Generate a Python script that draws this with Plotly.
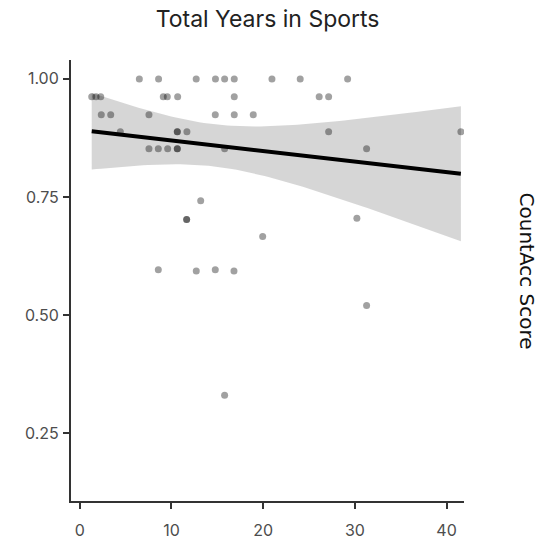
import numpy as np
import plotly.graph_objects as go

# Data
years = [6.5, 8.6, 12.7, 14.8, 15.8, 16.85, 20.96, 24.04, 29.21,
         1.31, 1.78, 2.29, 9.11, 9.55, 10.68, 16.85, 26.11, 27.14,
         2.35, 3.38, 7.55, 14.78, 16.85, 18.92,
         4.43, 10.64, 10.64, 11.69, 27.14, 41.56,
         7.55, 8.57, 9.59, 10.64, 10.64, 15.80, 31.28,
         13.19, 11.66, 11.66, 19.95, 30.22,
         8.57, 14.78, 12.71, 16.82,
         15.80, 31.28]
score = [1.0, 1.0, 1.0, 1.0, 1.0, 1.0, 1.0, 1.0, 1.0,
         0.962, 0.962, 0.962, 0.962, 0.962, 0.962, 0.962, 0.962, 0.962,
         0.924, 0.924, 0.924, 0.924, 0.924, 0.924,
         0.888, 0.888, 0.888, 0.888, 0.888, 0.888,
         0.852, 0.852, 0.852, 0.852, 0.852, 0.852, 0.852,
         0.742, 0.702, 0.702, 0.666, 0.705,
         0.596, 0.596, 0.593, 0.593,
         0.330, 0.520]

x_ticks = [0, 10, 20, 30, 40]
y_ticks = [0.25, 0.50, 0.75, 1.00]
y_tick_labels = ["0.25", "0.50", "0.75", "1.00"]

# Linear fit with 95% confidence band
x = np.array(years)
y = np.array(score)
n = len(x)
b, a = np.polyfit(x, y, 1)
resid = y - (a + b * x)
s = np.sqrt(np.sum(resid ** 2) / (n - 2))
xbar = x.mean()
sxx = np.sum((x - xbar) ** 2)
t = 2.013
xs = np.linspace(x.min(), x.max(), 80)
ys = a + b * xs
se = s * np.sqrt(1.0 / n + (xs - xbar) ** 2 / sxx)
upper = ys + t * se
lower = ys - t * se

fig = go.Figure()
fig.add_trace(go.Scatter(
    x=np.concatenate([xs, xs[::-1]]), y=np.concatenate([upper, lower[::-1]]),
    fill="toself", fillcolor="rgba(153,153,153,0.4)", line=dict(width=0),
    mode="lines", hoverinfo="skip", showlegend=False))
fig.add_trace(go.Scatter(
    x=years, y=score, mode="markers",
    marker=dict(size=7, color="rgba(0,0,0,0.37)", line=dict(width=0)),
    showlegend=False))
fig.add_trace(go.Scatter(
    x=xs, y=ys, mode="lines", line=dict(color="black", width=4),
    showlegend=False))

axis_common = dict(showgrid=False, zeroline=False, showline=True,
                   linecolor="#333333", linewidth=2, ticks="outside",
                   ticklen=6, tickwidth=2, tickcolor="#333333",
                   automargin=False,
                   tickfont=dict(family="Inter", size=16, color="#4d4d4d"))

fig.update_xaxes(range=[-0.95, 41.9], tickvals=x_ticks, ticklabelstandoff=8,
                 **axis_common)
fig.update_yaxes(range=[0.106, 1.040], tickvals=y_ticks, ticktext=y_tick_labels,
                 ticklabelstandoff=1, **axis_common)

fig.update_layout(
    width=540, height=540,
    margin=dict(l=71, r=76, t=60, b=39, autoexpand=False),
    plot_bgcolor="white", paper_bgcolor="white",
    title=dict(text="Total Years in Sports", x=0.4955, xanchor="center",
               y=0.965, yanchor="middle",
               font=dict(family="Inter", size=23, color="#222222")),
    annotations=[dict(text="CountAcc Score", textangle=90, xref="paper",
                      yref="paper", x=1.0, xshift=63, y=0.5, yshift=10,
                      xanchor="center", yanchor="middle", showarrow=False,
                      font=dict(family="DejaVu Sans", size=20,
                                color="#111111"))],
)

fig.write_html("out.html")
